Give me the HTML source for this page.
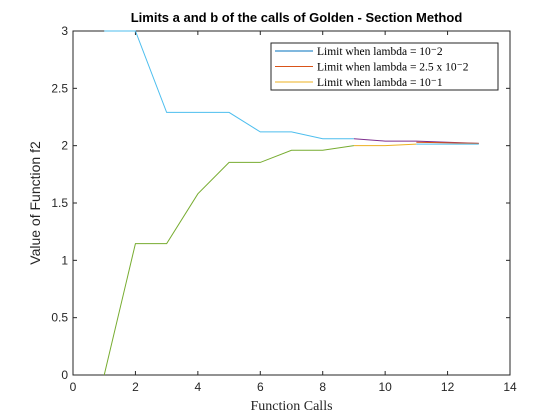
<!DOCTYPE html>
<html><head><meta charset="utf-8"><style>
body{margin:0;background:#fff;}
svg{display:block;}
</style></head><body>
<svg id="chart" width="560" height="420" xmlns="http://www.w3.org/2000/svg" font-family="Liberation Sans, sans-serif">
<rect width="560" height="420" fill="#fff"/>
<g id="plot"></g>
</svg>
<script>
const xTicks=[0,2,4,6,8,10,12,14];
const yTicks=[0,0.5,1,1.5,2,2.5,3];
const yTickLabels=['0','0.5','1','1.5','2','2.5','3'];
const upperX=[1,2,3,4,5,6,7,8,9];
const upperY=[3,3,2.29,2.29,2.29,2.12,2.12,2.06,2.06];
const lowerX=[1,2,3,4,5,6,7,8,9];
const lowerY=[0,1.146,1.146,1.58,1.854,1.854,1.96,1.96,2.0];
const upperTailX=[9,10,11,12,13];
const upperTailY=[2.06,2.04,2.04,2.03,2.02];
const lowerTailX=[9,10,11];
const lowerTailY=[2.0,2.0,2.013];
const lowerEndX=[11,12,13];
const lowerEndY=[2.013,2.013,2.013];
const legendLabels=['Limit when lambda = 10\u207B2','Limit when lambda = 2.5 x 10\u207B2','Limit when lambda = 10\u207B1'];
const legendColors=['#0072BD','#D95319','#EDB120'];

const L=73,R=510,T=31,B=375;
const sx=v=>L+(v-0)/(14-0)*(R-L);
const sy=v=>B-(v-0)/(3-0)*(B-T);
const NS='http://www.w3.org/2000/svg';
const g=document.getElementById('plot');
function mk(tag,attrs,parent){const e=document.createElementNS(NS,tag);for(const k in attrs)e.setAttribute(k,attrs[k]);(parent||g).appendChild(e);return e;}
function line(xs,ys,color,name){
  const p=mk('polyline',{points:xs.map((x,i)=>sx(x)+','+sy(ys[i])).join(' '),fill:'none',stroke:color,'stroke-width':1});
  
  
}
// axes box
const box=mk('rect',{x:L,y:T,width:R-L,height:B-T,fill:'none',stroke:'#262626','stroke-width':1});


xTicks.forEach(t=>{
  mk('line',{x1:sx(t),x2:sx(t),y1:B,y2:B-4,stroke:'#262626'});
  mk('line',{x1:sx(t),x2:sx(t),y1:T,y2:T+4,stroke:'#262626'});
  const tx=mk('text',{x:sx(t),y:B+16,'text-anchor':'middle','font-size':12,fill:'#262626'});
  tx.textContent=t;
  
  
});
yTicks.forEach((t,i)=>{
  mk('line',{x1:L,x2:L+4,y1:sy(t),y2:sy(t),stroke:'#262626'});
  mk('line',{x1:R,x2:R-4,y1:sy(t),y2:sy(t),stroke:'#262626'});
  const tx=mk('text',{x:L-5,y:sy(t)+4,'text-anchor':'end','font-size':12,fill:'#262626'});
  tx.textContent=yTickLabels[i];
  
  
});
line(upperX,upperY,'#4DBEEE','upper-limit-line');
line(lowerX,lowerY,'#77AC30','lower-limit-line');
line(upperTailX,upperTailY,'#7E2F8E','upper-tail-line');
line([11,13],[2.03,2.02],'#D95319','upper-end-line');
line(lowerTailX,lowerTailY,'#EDB120','lower-tail-line');
line(lowerEndX,lowerEndY,'#4DBEEE','lower-end-line');

const title=mk('text',{x:(L+R)/2+5,y:22,'text-anchor':'middle','font-size':13,'font-weight':'bold',fill:'#000'});
title.textContent='Limits a and b of the calls of Golden - Section Method';


const xl=mk('text',{x:(L+R)/2,y:410,'text-anchor':'middle','font-size':14,fill:'#262626','font-family':'Liberation Serif, serif'});
xl.textContent='Function Calls';


const yl=mk('text',{x:0,y:0,'text-anchor':'middle','font-size':14,fill:'#262626',transform:'translate(40,'+((T+B)/2)+') rotate(-90)'});
yl.textContent='Value of Function f2';



const lg=mk('g',{});


mk('rect',{x:271,y:43,width:227,height:47,fill:'#fff',stroke:'#262626','stroke-width':1},lg);
legendLabels.forEach((s,i)=>{
  const y=51+i*15.5;
  const ln=mk('line',{x1:275,x2:313,y1:y,y2:y,stroke:legendColors[i]},lg);
  
  
  const t=mk('text',{x:317,y:y+4,'font-size':11.5,fill:'#000','font-family':'Liberation Serif, serif'},lg);
  t.textContent=s;
  
  
});
</script>
</body></html>
